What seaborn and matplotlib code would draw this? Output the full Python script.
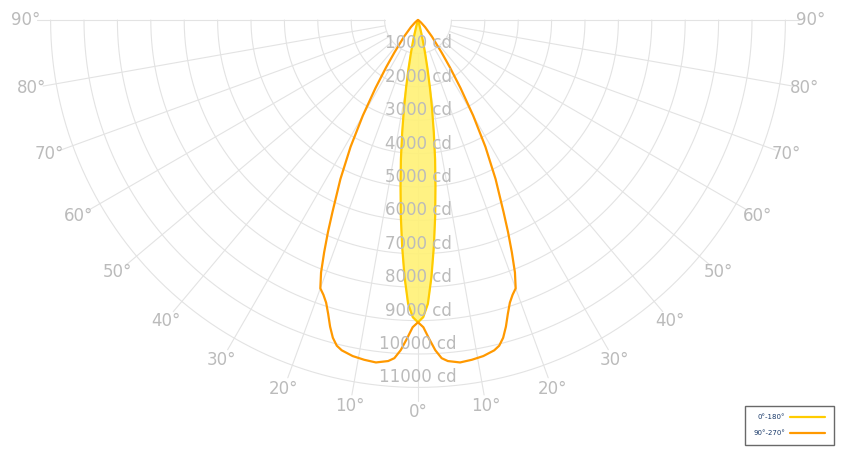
import numpy as np
import pandas as pd
import matplotlib
matplotlib.use("Agg")
import matplotlib.pyplot as plt
import seaborn as sns

sns.set_style("white")
plt.rcParams['font.family'] = ['DejaVu Sans']

# Luminous intensity (cd) vs angle from nadir (deg), symmetric
c0_angles = [0, 1, 2, 3, 4, 5, 6, 7, 8, 9, 10, 11, 12, 13, 14, 15, 16, 17, 18]
c0_values = [9050, 8900, 8500, 7700, 6800, 5900, 5000, 4200, 3400, 2700, 2050,
             1500, 1050, 700, 420, 220, 90, 20, 0]
c90_angles = [0, 1, 2, 3, 4, 5, 7, 9, 11, 13, 14, 15, 16, 17, 18, 19, 20, 21, 22,
              23, 24, 26, 28, 30, 32, 34, 36, 40, 45, 50, 55, 60]
c90_values = [9050, 9200, 9550, 9900, 10150, 10250, 10330, 10300, 10250, 10150,
              10050, 9850, 9550, 9200, 8900, 8700, 8550, 8100, 7500, 6900, 6300,
              5300, 4300, 3300, 2400, 1700, 1200, 650, 300, 120, 40, 0]
ring_values = [1000, 2000, 3000, 4000, 5000, 6000, 7000, 8000, 9000, 10000, 11000]
angle_ticks = [0, 10, 20, 30, 40, 50, 60, 70, 80, 90]
legend_labels = ["0°-180°", "90°-270°"]

def to_xy(angles, values):
    a = np.array(angles, float)
    v = np.array(values, float) / 1000
    full_a = np.concatenate([-a[::-1], a[1:]])
    full_v = np.concatenate([v[::-1], v[1:]])
    t = np.radians(full_a)
    return pd.DataFrame({"x": full_v * np.sin(t), "y": -full_v * np.cos(t)})

W, H = 847, 462
px = 33.4
cx, cy = 418, 20
fig = plt.figure(figsize=(W/100, H/100), dpi=100)
ax = fig.add_axes([0, 0, 1, 1])
ax.set_aspect('equal')
ax.axis('off')

gc = "#e3e3e3"
th = np.radians(np.linspace(-90, 90, 361))
for r in ring_values:
    rr = r/1000
    ax.plot(rr*np.sin(th), -rr*np.cos(th), color=gc, lw=0.8, zorder=1)
for a in range(-90, 91, 10):
    t = np.radians(a)
    ax.plot([1*np.sin(t), 11.4*np.sin(t)], [-1*np.cos(t), -11.4*np.cos(t)], color=gc, lw=0.8, zorder=1)

lc = "#bbbbbb"
for r in ring_values:
    ax.text(0, -r/1000 + 0.03, f"{r} cd", ha='center', va='bottom', fontsize=12, color=lc, zorder=5)
for a in angle_ticks:
    t = np.radians(a)
    R = 11.75
    for s in ([1] if a == 0 else [-1, 1]):
        ax.text(s*R*np.sin(t), -R*np.cos(t), f"{a}°", ha='center', va='center', fontsize=12, color=lc, zorder=5)

d0 = to_xy(c0_angles, c0_values)
d90 = to_xy(c90_angles, c90_values)
ax.fill(d0.x, d0.y, color="#fff176", alpha=0.9, zorder=2)
sns.lineplot(data=d0, x="x", y="y", sort=False, estimator=None, color="#ffcc00", lw=1.6, ax=ax, label=legend_labels[0], zorder=3)
sns.lineplot(data=d90, x="x", y="y", sort=False, estimator=None, color="#ff9900", lw=1.6, ax=ax, label=legend_labels[1], zorder=4)
ax.set_xlabel(""); ax.set_ylabel("")
ax.set_xlim(-cx/px, (W-cx)/px)
ax.set_ylim(-(H-cy)/px, cy/px)

leg = ax.legend(loc='lower right', bbox_to_anchor=(837/W, 1-448/H), fontsize=5, frameon=True,
                fancybox=False, edgecolor="#444444", handlelength=5, markerfirst=False,
                labelcolor="#1a3a6a", borderpad=1.2, labelspacing=1.4)
leg.get_frame().set_linewidth(1)
fig.savefig("out.png", dpi=100)
